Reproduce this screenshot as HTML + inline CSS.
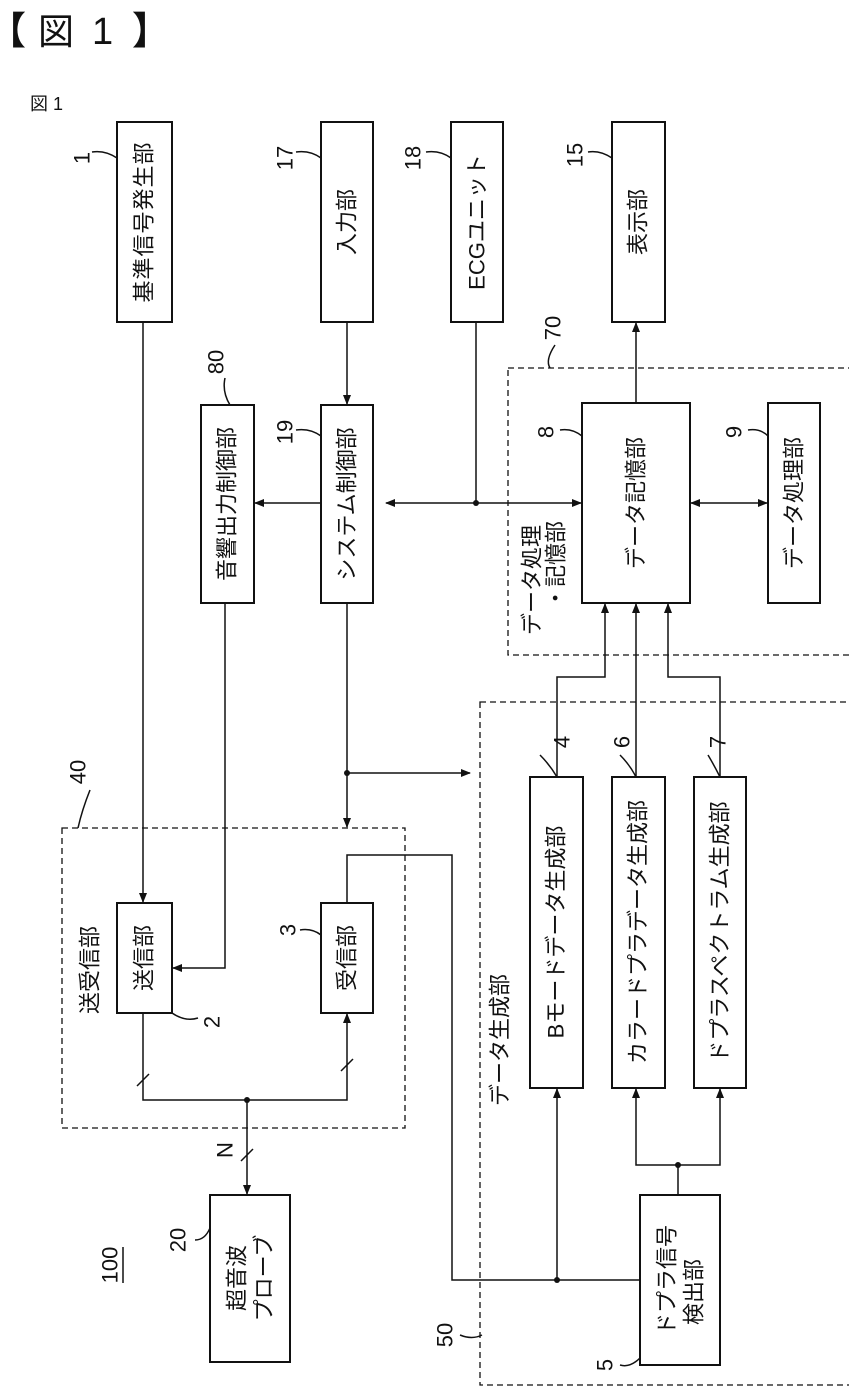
<!DOCTYPE html>
<html><head><meta charset="utf-8"><style>
html,body{margin:0;padding:0;background:#fff;}
svg{display:block;}
text{font-family:"Liberation Sans","Noto Sans CJK JP",sans-serif;fill:#111;}
</style></head><body>
<svg width="849" height="1391" viewBox="0 0 849 1391" xmlns="http://www.w3.org/2000/svg">
<defs>
<marker id="a" markerWidth="10" markerHeight="10" refX="9" refY="5" orient="auto" markerUnits="userSpaceOnUse">
<path d="M0,1 L10,5 L0,9 z" fill="#111"/></marker>
</defs>
<text x="-12" y="44" font-size="38" font-weight="bold">【</text>
<text x="38" y="44" font-size="36">図</text>
<text x="92" y="44" font-size="38">1</text>
<text x="132" y="44" font-size="38" font-weight="bold">】</text>
<text x="30" y="110" font-size="18">図 1</text>

<g fill="none" stroke="#111" stroke-width="2">
<rect x="117" y="122" width="55" height="200"/>
<rect x="321" y="122" width="52" height="200"/>
<rect x="451" y="122" width="52" height="200"/>
<rect x="612" y="122" width="53" height="200"/>
<rect x="201" y="405" width="53" height="198"/>
<rect x="321" y="405" width="52" height="198"/>
<rect x="582" y="403" width="108" height="200"/>
<rect x="768" y="403" width="52" height="200"/>
<rect x="117" y="903" width="55" height="110"/>
<rect x="321" y="903" width="52" height="110"/>
<rect x="530" y="777" width="53" height="311"/>
<rect x="612" y="777" width="53" height="311"/>
<rect x="694" y="777" width="52" height="311"/>
<rect x="640" y="1195" width="80" height="170"/>
<rect x="210" y="1195" width="80" height="167"/>
</g>
<g fill="none" stroke="#111" stroke-width="1.3" stroke-dasharray="6,4">
<rect x="508" y="368" width="342" height="287"/>
<rect x="62" y="828" width="343" height="300"/>
<rect x="480" y="702" width="370" height="683"/>
</g>

<g fill="none" stroke="#111" stroke-width="1.5">
<path d="M143,322 V902" marker-end="url(#a)"/>
<path d="M225,603 V968 H173" marker-end="url(#a)"/>
<path d="M347,322 V404" marker-end="url(#a)"/>
<path d="M321,503 H255" marker-end="url(#a)"/>
<path d="M476,322 V503 H386" marker-end="url(#a)"/>
<path d="M476,503 H581" marker-end="url(#a)"/>
<path d="M347,603 V827" marker-end="url(#a)"/>
<path d="M347,773 H470" marker-end="url(#a)"/>
<path d="M636,403 V323" marker-end="url(#a)"/>
<path d="M729,503 H691" marker-end="url(#a)"/>
<path d="M729,503 H767" marker-end="url(#a)"/>
<path d="M557,777 V677 H605 V604" marker-end="url(#a)"/>
<path d="M636,777 V604" marker-end="url(#a)"/>
<path d="M720,777 V677 H668 V604" marker-end="url(#a)"/>
<path d="M347,903 V855 H452 V1280 H640"/>
<path d="M557,1280 V1089" marker-end="url(#a)"/>
<path d="M678,1195 V1165 H636 V1089" marker-end="url(#a)"/>
<path d="M678,1165 H720 V1089" marker-end="url(#a)"/>
<path d="M143,1013 V1100 H347 V1014" marker-end="url(#a)"/>
<path d="M247,1100 V1194" marker-end="url(#a)"/>
<path d="M137,1086 L149,1074 M341,1071 L353,1059 M241,1161 L253,1149"/>
<path d="M92,152 Q105,150 117,158"/>
<path d="M296,152 Q310,150 321,158"/>
<path d="M426,152 Q440,150 451,158"/>
<path d="M588,152 Q600,150 612,158"/>
<path d="M225,378 Q222,392 230,405"/>
<path d="M296,430 Q310,428 321,436"/>
<path d="M560,430 Q572,428 582,436"/>
<path d="M748,430 Q760,428 768,436"/>
<path d="M555,345 Q545,360 550,368"/>
<path d="M90,790 Q82,810 78,828"/>
<path d="M172,1013 Q185,1022 198,1018"/>
<path d="M300,930 Q312,928 321,935"/>
<path d="M540,755 Q550,765 557,777"/>
<path d="M620,755 Q630,765 636,777"/>
<path d="M708,755 Q714,765 720,777"/>
<path d="M620,1365 Q630,1368 640,1358"/>
<path d="M460,1335 Q472,1340 482,1335"/>
<path d="M195,1240 Q205,1240 210,1228"/>
</g>
<g fill="#111">
<circle cx="476" cy="503" r="3"/><circle cx="347" cy="773" r="3"/>
<circle cx="557" cy="1280" r="3"/><circle cx="678" cy="1165" r="3"/>
<circle cx="247" cy="1100" r="3"/>
</g>

<g font-size="22" text-anchor="middle" dominant-baseline="central">
<text transform="translate(144,222) rotate(-90)" letter-spacing="1">基準信号発生部</text>
<text transform="translate(347,222) rotate(-90)">入力部</text>
<text transform="translate(477,222) rotate(-90)">ECGユニット</text>
<text transform="translate(638,222) rotate(-90)">表示部</text>
<text transform="translate(227,504) rotate(-90)">音響出力制御部</text>
<text transform="translate(347,504) rotate(-90)">システム制御部</text>
<text transform="translate(636,503) rotate(-90)">データ記憶部</text>
<text transform="translate(794,503) rotate(-90)">データ処理部</text>
<text transform="translate(144,958) rotate(-90)">送信部</text>
<text transform="translate(347,958) rotate(-90)">受信部</text>
<text transform="translate(556,932) rotate(-90)">Bモードデータ生成部</text>
<text transform="translate(638,932) rotate(-90)">カラードプラデータ生成部</text>
<text transform="translate(720,932) rotate(-90)">ドプラスペクトラム生成部</text>
<text transform="translate(667,1280) rotate(-90)">ドプラ信号</text>
<text transform="translate(694,1292) rotate(-90)">検出部</text>
<text transform="translate(237,1278) rotate(-90)">超音波</text>
<text transform="translate(264,1278) rotate(-90)">プローブ</text>
<text transform="translate(90,970) rotate(-90)">送受信部</text>
<text transform="translate(500,1040) rotate(-90)">データ生成部</text>
<text transform="translate(532,580) rotate(-90)">データ処理</text>
<text transform="translate(556,565) rotate(-90)">・記憶部</text>

<text transform="translate(82,158) rotate(-90)">1</text>
<text transform="translate(285,158) rotate(-90)">17</text>
<text transform="translate(413,158) rotate(-90)">18</text>
<text transform="translate(575,155) rotate(-90)">15</text>
<text transform="translate(216,362) rotate(-90)">80</text>
<text transform="translate(285,432) rotate(-90)">19</text>
<text transform="translate(546,432) rotate(-90)">8</text>
<text transform="translate(734,432) rotate(-90)">9</text>
<text transform="translate(553,328) rotate(-90)">70</text>
<text transform="translate(78,772) rotate(-90)">40</text>
<text transform="translate(212,1022) rotate(-90)">2</text>
<text transform="translate(288,930) rotate(-90)">3</text>
<text transform="translate(562,742) rotate(-90)">4</text>
<text transform="translate(622,742) rotate(-90)">6</text>
<text transform="translate(718,742) rotate(-90)">7</text>
<text transform="translate(605,1365) rotate(-90)">5</text>
<text transform="translate(445,1335) rotate(-90)">50</text>
<text transform="translate(178,1240) rotate(-90)">20</text>
<text transform="translate(225,1150) rotate(-90)">N</text>
<text transform="translate(110,1265) rotate(-90)">100</text>
</g>
<path d="M123,1247 V1283" stroke="#111" stroke-width="1.5"/>
</svg>
</body></html>
